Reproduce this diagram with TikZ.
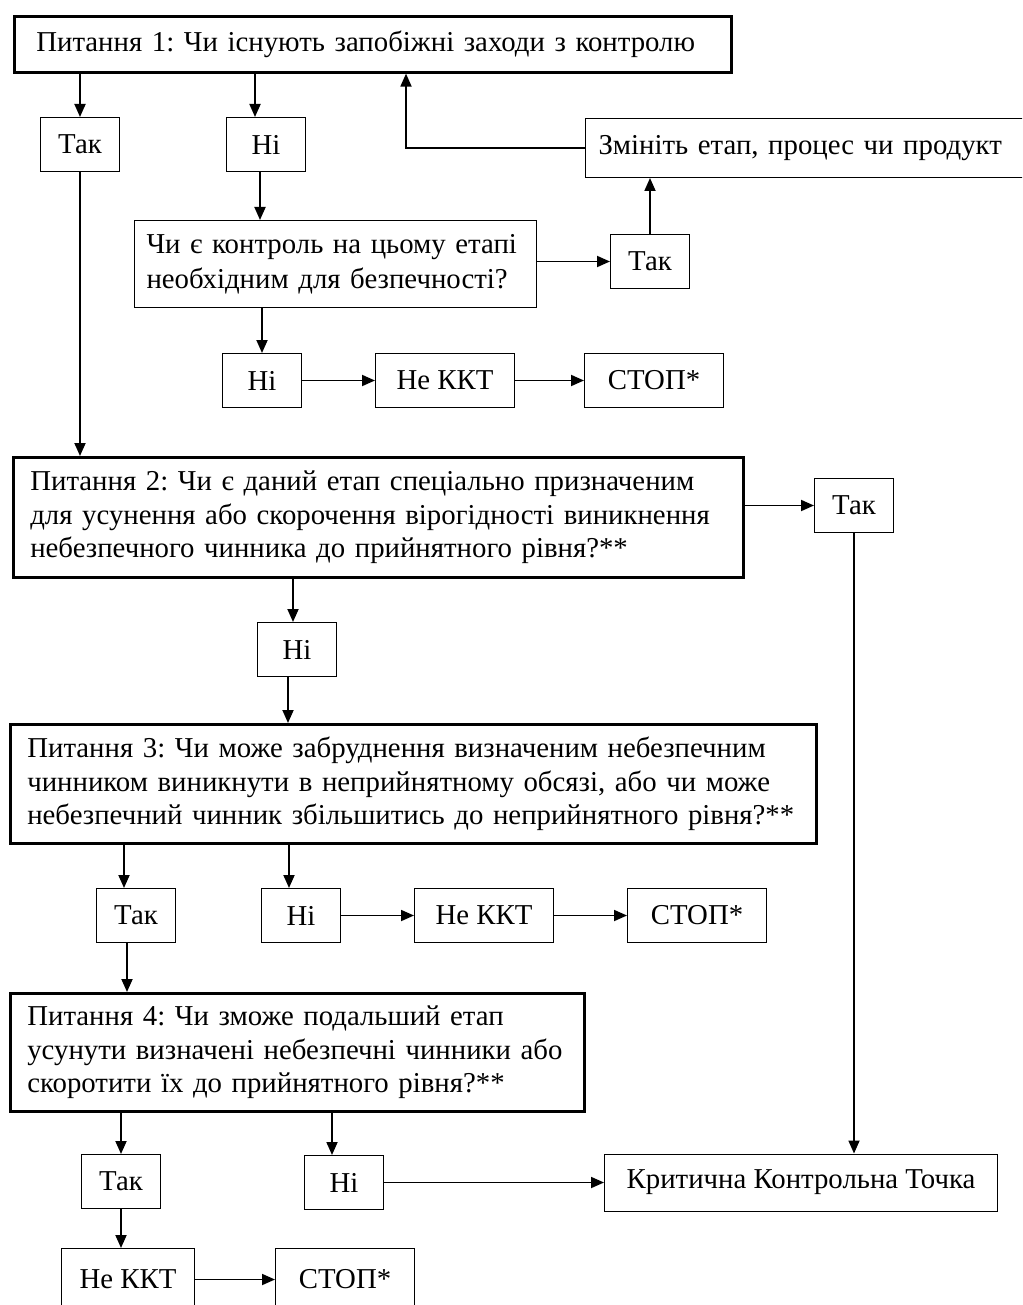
\documentclass[tikz,border=0pt]{standalone}
\usepackage{fontspec}
\setmainfont{Liberation Serif}
\usepackage{tikz}
\usetikzlibrary{arrows.meta, positioning}
\frenchspacing

\begin{document}
\begin{tikzpicture}[
  x=0.5pt, y=-0.5pt,
  txt/.style={font=\fontsize{14.4}{16.8}\selectfont},
  qbox/.style={rectangle, draw, line width=1.3pt, align=left, txt,
               inner xsep=8.5pt, inner ysep=0pt},
  ans/.style={rectangle, draw, line width=0.5pt, minimum width=39.5pt,
              minimum height=27pt, inner sep=0pt, txt},
  res/.style={rectangle, draw, line width=0.5pt, minimum width=69.5pt,
              minimum height=27pt, inner sep=0pt, txt},
  arrow/.style={-{Triangle[length=6.5pt, width=5.5pt]}, line width=0.9pt},
]
  \clip (0,0) rectangle (1022,1305);

  % Question 1
  \node[qbox, anchor=north west, inner xsep=11pt, text width=336.5pt,
        minimum height=28pt] (q1) at (13,15)
        {Питання 1: Чи існують запобіжні заходи з контролю};
  \node[ans, anchor=north west] (tak1) at (40,117) {Так};
  \node[ans, anchor=north west] (ni1) at (226,117) {Ні};
  % Change the step
  \node[rectangle, draw, line width=0.5pt, align=left, txt, anchor=north west,
        inner xsep=6.5pt, text width=216pt, minimum height=29.5pt] (zmin)
        at (585,118) {Змініть етап, процес чи продукт};
  % Is control needed
  \node[rectangle, draw, line width=0.5pt, align=left, txt, anchor=north west,
        inner xsep=6pt, text width=189pt, minimum height=43.5pt,
        font=\fontsize{14.4}{17.5}\selectfont] (dec)
        at (134,220) {Чи є контроль на цьому етапі\\необхідним для безпечності?};
  \node[ans, anchor=north west] (tak2) at (610,234) {Так};
  \node[ans, anchor=north west] (ni2) at (222,353) {Ні};
  \node[res, right=36.5pt of ni2] (nekkt1) {Не ККТ};
  \node[res, right=34.5pt of nekkt1] (stop1) {СТОП*};

  % Question 2
  \node[qbox, anchor=north west, text width=348pt, minimum height=60pt] (q2)
        at (12,456) {Питання 2: Чи є даний етап спеціально призначеним\\
        для усунення або скорочення вірогідності виникнення\\
        небезпечного чинника до прийнятного рівня?**};
  \node[ans, anchor=north west] (tak3) at (814,478) {Так};
  \node[ans, anchor=north west] (ni3) at (257,622) {Ні};

  % Question 3
  \node[qbox, anchor=north west, text width=386pt, minimum height=59.5pt] (q3)
        at (9,723) {Питання 3: Чи може забруднення визначеним небезпечним\\
        чинником виникнути в неприйнятному обсязі, або чи може\\
        небезпечний чинник збільшитись до неприйнятного рівня?**};
  \node[ans, anchor=north west] (tak4) at (96,888) {Так};
  \node[ans, anchor=north west] (ni4) at (261,888) {Ні};
  \node[res, right=36.5pt of ni4] (nekkt2) {Не ККТ};
  \node[res, right=36.5pt of nekkt2] (stop2) {СТОП*};

  % Question 4
  \node[qbox, anchor=north west, text width=270pt, minimum height=59pt] (q4)
        at (9,992) {Питання 4: Чи зможе подальший етап\\
        усунути визначені небезпечні чинники або\\
        скоротити їх до прийнятного рівня?**};
  \node[ans, anchor=north west] (tak5) at (81,1154) {Так};
  \node[ans, anchor=north west] (ni5) at (304,1155) {Ні};
  \node[res, minimum width=196.5pt, minimum height=28.5pt,
        right=110pt of ni5] (kkt) {Критична Контрольна Точка};
  \node[res, minimum width=66.5pt, minimum height=31pt,
        anchor=north west] (nekkt3) at (61,1248) {Не ККТ};
  \node[res, minimum height=31pt, right=40pt of nekkt3] (stop3) {СТОП*};

  \coordinate (back) at (406,0);

  % Arrows
  \draw[arrow] (q1.south -| tak1) -- (tak1.north);
  \draw[arrow] ([xshift=-5.5pt]ni1.north |- q1.south) -- ([xshift=-5.5pt]ni1.north);
  \draw[arrow] (tak1.south) -- (tak1.south |- q2.north);
  \draw[arrow] ([xshift=-3pt]ni1.south) -- ([xshift=-3pt]ni1.south |- dec.north);
  \draw[arrow] (dec.east |- tak2) -- (tak2.west);
  \draw[arrow] (tak2.north) -- (tak2.north |- zmin.south);
  \draw[arrow] (zmin.west) -| (back |- q1.south);
  \draw[arrow] (dec.south -| ni2) -- (ni2.north);
  \draw[arrow] (ni2) -- (nekkt1);
  \draw[arrow] (nekkt1) -- (stop1);
  \draw[arrow] (q2.east |- tak3) -- (tak3.west);
  \draw[arrow] (tak3.south) -- (tak3.south |- kkt.north);
  \draw[arrow] ([xshift=-2pt]ni3.north |- q2.south) -- ([xshift=-2pt]ni3.north);
  \draw[arrow] ([xshift=-4.5pt]ni3.south) -- ([xshift=-4.5pt]ni3.south |- q3.north);
  \draw[arrow] ([xshift=-6pt]tak4.north |- q3.south) -- ([xshift=-6pt]tak4.north);
  \draw[arrow] ([xshift=-6pt]ni4.north |- q3.south) -- ([xshift=-6pt]ni4.north);
  \draw[arrow] (ni4) -- (nekkt2);
  \draw[arrow] (nekkt2) -- (stop2);
  \draw[arrow] ([xshift=-4.5pt]tak4.south) -- ([xshift=-4.5pt]tak4.south |- q4.north);
  \draw[arrow] (tak5.north |- q4.south) -- (tak5.north);
  \draw[arrow] ([xshift=-6pt]ni5.north |- q4.south) -- ([xshift=-6pt]ni5.north);
  \draw[arrow] (ni5) -- (kkt);
  \draw[arrow] (tak5.south) -- (tak5.south |- nekkt3.north);
  \draw[arrow] (nekkt3) -- (stop3);
\end{tikzpicture}
\end{document}
